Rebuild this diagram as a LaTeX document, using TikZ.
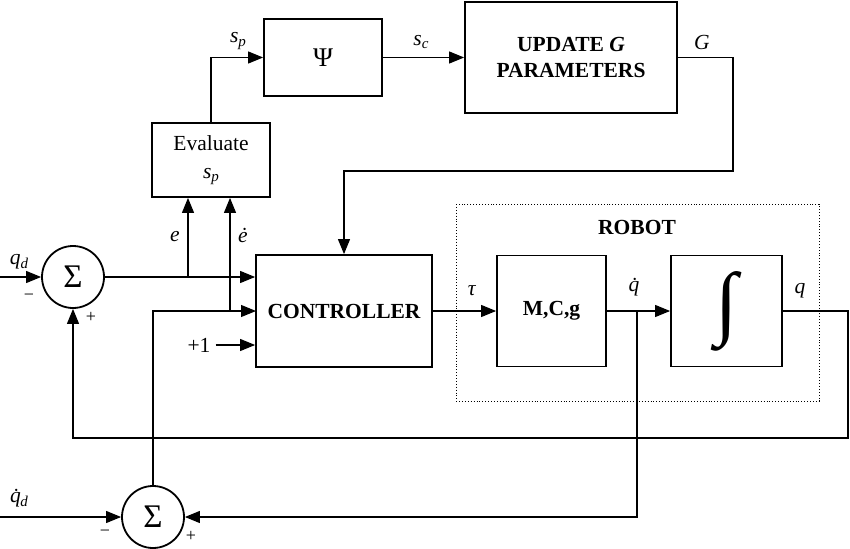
\documentclass[tikz,border=0pt]{standalone}
\usepackage{fontspec}
\setmainfont{Liberation Serif}
\usetikzlibrary{arrows.meta,calc}
\newcommand\sub[2]{#1\raisebox{-0.35ex}{\fontsize{15}{15}\selectfont\textit{#2}}}
\begin{document}
\begin{tikzpicture}[x=1pt,y=-1pt,font=\fontsize{21.5}{25}\selectfont,
  blk/.style={draw,line width=1.8pt,inner sep=0pt},
  conn/.style={line width=1.1pt},
  arr/.style={conn,-{Triangle[length=15pt,width=12pt]}},
  sumc/.style={draw,circle,line width=1.8pt,minimum size=62pt,inner sep=0pt,font=\fontsize{33}{33}\selectfont},
  lbl/.style={inner sep=1pt},
  sgn/.style={inner sep=0pt,font=\fontsize{18}{18}\selectfont}]
\useasboundingbox (0,0) rectangle (850,548);
% blocks
\node[blk,minimum width=118pt,minimum height=77pt,font=\fontsize{27}{27}\selectfont] (psi) at (323,57.5) {Ψ};
\node[blk,minimum width=118pt,minimum height=74pt,align=center] (eval) at (211,160) {Evaluate\\[3pt]\sub{\textit{s}}{p}};
\node[blk,minimum width=212pt,minimum height=111pt,align=center,font=\fontsize{21.5}{26}\selectfont\bfseries] (upd) at (571,57.5) {UPDATE \textit{G}\\PARAMETERS};
\node[blk,minimum width=176pt,minimum height=112pt,font=\fontsize{21.5}{25}\selectfont\bfseries] (ctrl) at (344,311) {CONTROLLER};
\node[blk,minimum width=109pt,minimum height=111pt,font=\fontsize{21.5}{25}\selectfont\bfseries] (mcg) at (551.5,311) {M,C,g};
\node[blk,minimum width=111pt,minimum height=111pt] (integ) at (726.5,311) {\resizebox{!}{58pt}{\bfseries ∫}};
\draw[dotted,line width=0.9pt] (456,204) rectangle (819,401);
\node[lbl,font=\fontsize{21.5}{25}\selectfont\bfseries] (robot) at (637,227) {ROBOT};
\node[sumc] (sum1) at (73,277) {Σ};
\node[sumc] (sum2) at (153,517) {Σ};
% coordinates
\coordinate (qdin) at (0,277);
\coordinate (qddin) at (0,517);
\coordinate (etap) at (188,277);
\coordinate (edtap) at (230,311);
\coordinate (in2) at (256,311);
\coordinate (gr) at (733,171);
\coordinate (qdt) at (637,311);
\coordinate (qr) at (848,438);
% connectors
\draw[arr] (qdin) -- (sum1.west);
\draw[arr] (sum1.east) -- (sum1.east -| ctrl.west);
\draw[arr] (etap) -- (etap |- eval.south);
\draw[arr] (edtap) -- (edtap |- eval.south);
\draw[arr] (sum2.north) |- (in2);
\node[lbl] (one) at (199,345) {+1};
\draw[arr] ([xshift=4pt]one.east) -- (one.east -| ctrl.west);
\draw[arr] (eval.north) |- (psi.west);
\draw[arr] (psi.east) -- (psi.east -| upd.west);
\draw[arr] (upd.east) -| (gr) -| (ctrl.north);
\draw[arr] (ctrl.east) -- (mcg.west);
\draw[arr] (mcg.east) -- (integ.west);
\draw[arr] (qdt) |- (sum2.east);
\draw[arr] (integ.east) -| (qr) -| (sum1.south);
\draw[arr] (qddin) -- (sum2.west);
% labels
\node[lbl] (lsp) at (238,41) {\sub{\textit{s}}{p}};
\node[lbl] (lsc) at (421,42) {\sub{\textit{s}}{c}};
\node[lbl] (lG) at (702,42) {\textit{G}};
\node[lbl] (le) at (175,237) {\textit{e}};
\node[lbl] (led) at (243,235) {\textit{ė}};
\node[lbl] (ltau) at (472,291) {\textit{τ}};
\node[lbl] (lqd) at (637,287) {\textit{q̇}};
\node[lbl] (lq) at (800,291) {\textit{q}};
\node[lbl] (lqdes) at (19,262) {\sub{\textit{q}}{d}};
\node[lbl] (lqddes) at (19,498) {\sub{\textit{q̇}\kern-0.3em}{d}};
\node[sgn] at (29,297) {−};
\node[sgn] at (91,317) {+};
\node[sgn] at (105,533) {−};
\node[sgn] at (191,536) {+};
\end{tikzpicture}
\end{document}
